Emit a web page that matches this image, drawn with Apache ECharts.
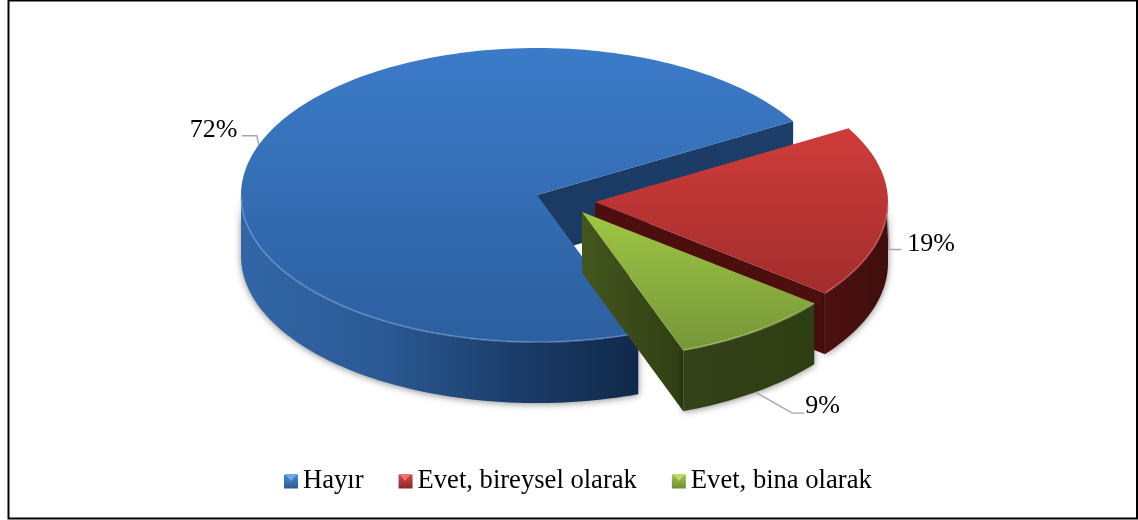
<!DOCTYPE html>
<html><head><meta charset="utf-8">
<style>html,body{margin:0;padding:0;background:#fff}#c{width:1138px;height:520px}</style>
<script src="https://cdn.jsdelivr.net/npm/echarts@6/dist/echarts.min.js"></script>
</head><body><div id="c"></div>
<script>
const categories = ['Hayır', 'Evet, bireysel olarak', 'Evet, bina olarak'];
const values = [72.2, 19.0, 8.8];

const FONT = '"Liberation Serif","Times New Roman",serif';
const CX = 537, CY = 195, RY = 147, DEPTH = 61, START = -70;
const radiusX = [296, 293, 296];
const explode = [[0, 0], [58, 7], [45, 17]];
const G = (x, y, x2, y2, stops) => new echarts.graphic.LinearGradient(x, y, x2, y2, stops.map(c => ({offset: c[0], color: c[1]})));
const palette = [
  {top: [[0, '#3c7bc9'], [1, '#2c5f9f']], side: [[0, '#3266a6'], [0.35, '#2b5a95'], [0.7, '#1b3c68'], [1, '#10284a']], wall: [[0, '#1a3a62'], [1, '#1c3e69']], rim: 'rgba(130,175,235,0.38)', legend: [[0, '#4f8ad2'], [1, '#2a5a96']], tri: '#6ea8ea'},
  {top: [[0, '#cf3c3a'], [1, '#a22d2c']], side: [[0, '#4c1110'], [1, '#3f0e0d']], wall: [[0, '#4c0f0e'], [1, '#4c0f0e']], rim: 'rgba(235,130,125,0.38)', legend: [[0, '#d04a48'], [1, '#8c2826']], tri: '#ea736f'},
  {top: [[0, '#9fc644'], [1, '#76963a']], side: [[0, '#34421a'], [1, '#2f3d12']], wall: [[0, '#44571f'], [1, '#303e12']], rim: 'rgba(200,225,130,0.4)', legend: [[0, '#a2c848'], [1, '#6f8c30']], tri: '#bfdb6c'}
];
// leader elbow and text offset relative to the anchor on the rim
const labelStyle = [
  {elbow: [-2, -9], tail: -15, text: [-69, -28], drop: 0},
  {elbow: [2, 37], tail: 12, text: [20, 19], drop: 0},
  {elbow: [37, 21], tail: 12, text: [50, 1], drop: DEPTH}
];

const total = values.reduce((a, b) => a + b, 0);
// each slice spans clockwise from its start angle; angles in degrees, math orientation
const spans = [];
{
  let a = START;
  values.forEach(v => { const s = v / total * 360; spans.push([a, a - s]); a -= s; });
}
function pt(c, rx, deg, dz) {
  const r = deg * Math.PI / 180;
  return [c[0] + rx * Math.cos(r), c[1] - RY * Math.sin(r) + (dz || 0)];
}
function arc(c, rx, from, to, dz) {
  const n = Math.max(2, Math.ceil(Math.abs(to - from) / 1.5)), out = [];
  for (let i = 0; i <= n; i++) out.push(pt(c, rx, from + (to - from) * i / n, dz));
  return out;
}
function renderSlice(idx) {
  return function (params, api) {
    const c = [CX + explode[idx][0], CY + explode[idx][1]];
    const rx = radiusX[idx];
    const [a0, a1] = spans[idx];
    const p = palette[idx];
    const kids = [];
    // visible outer rim: portion of the slice in the lower half of the ellipse
    let from = null, to = null;
    for (let a = a0; a >= a1 - 1e-6; a -= 0.5) {
      if (Math.sin(a * Math.PI / 180) <= 0.0001) { if (from === null) from = a; to = a; }
    }
    if (Math.sin(a1 * Math.PI / 180) <= 0) to = a1;
    // cut wall facing the viewer
    const we = pt(c, rx, a1);
    kids.push({type: 'polygon', shape: {points: [c, we, [we[0], we[1] + DEPTH], [c[0], c[1] + DEPTH]]},
      style: {fill: G(0, 0, 1, 0, p.wall)}});
    // outer side
    const upper = arc(c, rx, from, to, 0), lower = arc(c, rx, from, to, DEPTH).reverse();
    kids.push({type: 'polygon', shape: {points: upper.concat(lower)},
      style: {fill: G(0, 0, 1, 0, p.side), shadowBlur: 7, shadowColor: 'rgba(0,0,0,0.45)', shadowOffsetX: 0, shadowOffsetY: 1}});
    // top face
    kids.push({type: 'polygon', shape: {points: [c].concat(arc(c, rx, a0, a1, 0))},
      style: {fill: G(0, 0, 0, 1, p.top)}});
    // bevel highlight on the front rim
    kids.push({type: 'polyline', shape: {points: upper}, style: {stroke: p.rim, lineWidth: 2, fill: null}});
    return {type: 'group', children: kids};
  };
}
function renderLabel(idx) {
  return function (params, api) {
    const c = [CX + explode[idx][0], CY + explode[idx][1]];
    const mid = (spans[idx][0] + spans[idx][1]) / 2;
    const s = labelStyle[idx];
    const A = pt(c, radiusX[idx], mid, s.drop), B = [A[0] + s.elbow[0], A[1] + s.elbow[1]], C = [B[0] + s.tail, B[1]];
    return {type: 'group', children: [
      {type: 'polyline', shape: {points: [A, B, C]}, style: {stroke: '#a6a6a6', lineWidth: 1.4, fill: null}},
      {type: 'text', x: A[0] + s.text[0], y: A[1] + s.text[1], style: {text: Math.round(api.value(0) / total * 100) + '%', font: '26px ' + FONT, fill: '#000', textAlign: 'left', textVerticalAlign: 'top'}}
    ]};
  };
}
const series = categories.map((name, i) => ({
  type: 'custom', name, coordinateSystem: 'none', silent: true, z: 2 + i,
  itemStyle: {color: palette[i].top[0][1]},
  renderItem: renderSlice(i), data: [{name, value: values[i]}]
})).concat(categories.map((name, i) => ({
  type: 'custom', name: name + ' etiket', coordinateSystem: 'none', silent: true, z: 10,
  renderItem: renderLabel(i), data: [{value: values[i]}]
})));

// light bevel on the three legend keys
const legendKeyX = [284, 398, 672];
const chart = echarts.init(document.getElementById('c'), null, {renderer: 'canvas'});
chart.setOption({
  animation: false,
  backgroundColor: '#fff',
  legend: {
    left: 279, top: 463, itemWidth: 14, itemHeight: 14, itemGap: 35, selectedMode: false,
    textStyle: {fontFamily: FONT, fontSize: 26.6, color: '#000'},
    data: categories.map((name, i) => ({name, icon: 'rect', itemStyle: {color: G(0, 0, 0, 1, palette[i].legend)}}))
  },
  graphic: [
    {type: 'rect', shape: {x: 8.5, y: 0.5, width: 1128.5, height: 518}, style: {fill: null, stroke: '#000', lineWidth: 2}, z: 20, silent: true}
  ].concat(legendKeyX.map((x, i) => ({
    type: 'polygon', shape: {points: [[x + 1, 474], [x + 13, 474], [x + 7, 481]]}, style: {fill: palette[i].tri}, z: 20, silent: true
  }))),
  series
});
</script></body></html>
